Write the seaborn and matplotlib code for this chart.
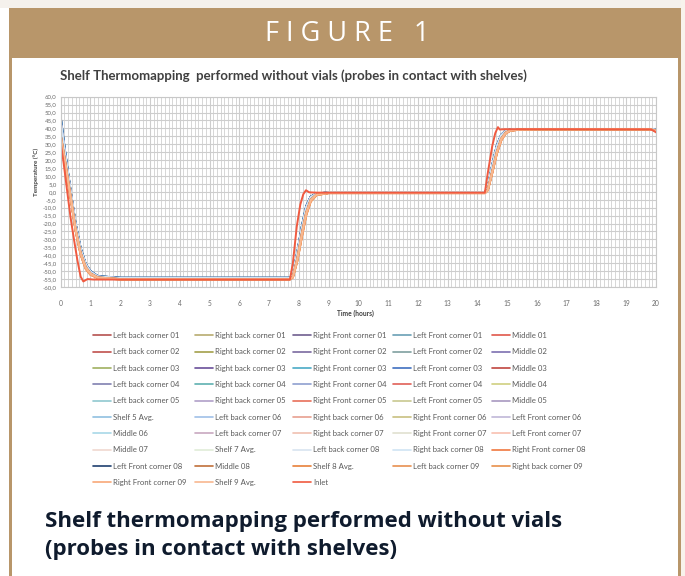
import matplotlib
matplotlib.use("Agg")
import matplotlib.pyplot as plt
import pandas as pd
import seaborn as sns
from matplotlib.lines import Line2D
from matplotlib.patches import Rectangle
from matplotlib.ticker import MultipleLocator, FuncFormatter

# ---------------------------------------------------------------- data
# common sampling instants (hours) for the shelf probes
hours = [0, 0.15, 0.33, 0.5, 0.67, 0.84, 1.0, 1.25, 2.0, 7.7, 7.8, 7.95, 8.1,
         8.25, 8.4, 8.6, 9.0, 14.25, 14.35, 14.5, 14.65, 14.8, 14.95, 15.1,
         15.4, 16.0, 19.8, 20.0]

# typical probe responses (°C) at the instants above
p_hot = [47.0, 25.0, 1.0, -20.0, -35.5, -45.5, -50.0, -53.2, -54.2, -54.2,
         -52.0, -38.0, -22.0, -9.0, -3.0, -1.0, -0.4, -0.4, 3.0, 17.0, 29.0,
         36.0, 38.5, 39.3, 39.6, 39.6, 39.6, 39.1]
p_warm = [44.0, 23.0, 0.0, -21.0, -36.5, -46.0, -50.5, -53.5, -54.5, -54.5,
          -52.5, -39.0, -23.5, -10.0, -3.5, -1.2, -0.5, -0.5, 2.5, 16.0, 28.0,
          35.5, 38.2, 39.1, 39.5, 39.5, 39.5, 39.0]
p_mid = [40.0, 21.0, -1.5, -22.5, -37.5, -46.8, -51.0, -53.8, -54.8, -54.8,
         -53.0, -40.5, -25.0, -11.5, -4.2, -1.4, -0.6, -0.6, 2.0, 14.5, 26.5,
         34.5, 37.8, 38.9, 39.4, 39.4, 39.4, 38.8]
p_cool = [36.0, 19.0, -2.5, -23.5, -38.5, -47.5, -51.5, -54.0, -55.0, -55.0,
          -53.5, -42.0, -26.5, -13.0, -5.0, -1.6, -0.7, -0.7, 1.5, 13.0, 25.0,
          33.5, 37.3, 38.7, 39.3, 39.4, 39.4, 38.6]
p_slow = [32.0, 17.0, -3.5, -24.5, -39.5, -48.5, -52.2, -54.4, -55.2, -55.2,
          -54.0, -43.5, -28.5, -14.5, -6.0, -2.0, -0.8, -0.8, 1.0, 12.0, 24.0,
          32.5, 36.8, 38.5, 39.2, 39.4, 39.4, 38.4]

# inlet (heat transfer fluid) sensor
inlet_hours = [0, 0.1, 0.2, 0.33, 0.45, 0.56, 0.67, 0.76, 0.9, 1.1, 2.0, 7.7,
               7.8, 7.93, 8.05, 8.15, 8.24, 8.35, 8.6, 9.0, 14.25, 14.35, 14.5,
               14.6, 14.69, 14.75, 14.9, 16.0, 19.8, 19.9, 20.0]
inlet_temp = [31.0, 18.0, 3.0, -16.0, -30.5, -43.0, -53.5, -56.5, -55.0,
              -55.3, -55.3, -55.3, -45.0, -22.0, -8.0, -1.5, 1.0, -0.3, -0.5,
              -0.5, -0.5, 12.0, 29.0, 37.0, 40.8, 39.3, 39.5, 39.5, 39.4, 38.8,
              37.5]

profiles = {"hot": p_hot, "warm": p_warm, "mid": p_mid, "cool": p_cool,
            "slow": p_slow}

# series in legend order (filled row by row, five per row)
series_names = [
    "Left back corner 01", "Right back corner 01", "Right Front corner 01", "Left Front corner 01", "Middle 01",
    "Left back corner 02", "Right back corner 02", "Right Front corner 02", "Left Front corner 02", "Middle 02",
    "Left back corner 03", "Right back corner 03", "Right Front corner 03", "Left Front corner 03", "Middle 03",
    "Left back corner 04", "Right back corner 04", "Right Front corner 04", "Left Front corner 04", "Middle 04",
    "Left back corner 05", "Right back corner 05", "Right Front corner 05", "Left Front corner 05", "Middle 05",
    "Shelf 5 Avg.", "Left back corner 06", "Right back corner 06", "Right Front corner 06", "Left Front corner 06",
    "Middle 06", "Left back corner 07", "Right back corner 07", "Right Front corner 07", "Left Front corner 07",
    "Middle 07", "Shelf 7 Avg.", "Left back corner 08", "Right back corner 08", "Right Front corner 08",
    "Left Front corner 08", "Middle 08", "Shelf 8 Avg.", "Left back corner 09", "Right back corner 09",
    "Right Front corner 09", "Shelf 9 Avg.", "Inlet",
]
series_colors = [
    "#b5524f", "#b8ab70", "#6f5f8f", "#6a9fb5", "#e0584a",
    "#c0504d", "#a3a04a", "#7a6aa0", "#7f9f9f", "#7d70b0",
    "#a0b060", "#6a4f9a", "#4aaac6", "#3f6fc0", "#c04540",
    "#8080b0", "#5fb0b0", "#8f9fd0", "#e06058", "#d0d080",
    "#90c8d0", "#b0a0c8", "#e8705a", "#c8c890", "#a898c0",
    "#90c0e0", "#a0c0e8", "#e8a090", "#c8c080", "#c0b8d8",
    "#a8d8e8", "#c8a8c0", "#f0c0b0", "#e0e0d0", "#f8c0b0",
    "#f0d8d0", "#e0ecd8", "#d8e4f0", "#d0e4f4", "#f07840",
    "#1f3f6f", "#c0703a", "#e8803a", "#e89050", "#e8904a",
    "#f8a878", "#f8b890", "#f05a40",
]
series_profile = [
    "mid", "warm", "hot", "hot", "mid",
    "warm", "mid", "hot", "hot", "warm",
    "mid", "warm", "hot", "hot", "mid",
    "warm", "mid", "warm", "cool", "mid",
    "mid", "warm", "cool", "mid", "warm",
    "warm", "mid", "cool", "mid", "warm",
    "mid", "cool", "cool", "mid", "cool",
    "mid", "mid", "warm", "warm", "slow",
    "cool", "cool", "cool", "slow", "slow",
    "slow", "cool", "inlet",
]

# long-form table for seaborn
frames = []
for name, prof in zip(series_names, series_profile):
    if prof == "inlet":
        frames.append(pd.DataFrame({"hours": inlet_hours, "temp": inlet_temp, "probe": name}))
    else:
        frames.append(pd.DataFrame({"hours": hours, "temp": profiles[prof], "probe": name}))
df = pd.concat(frames, ignore_index=True)

# ---------------------------------------------------------------- figure
W, H = 685, 576
sns.set_style("white")
plt.rcParams["font.family"] = ["Lato", "DejaVu Sans"]

fig = plt.figure(figsize=(W / 100, H / 100), dpi=100)
fig.patch.set_facecolor("white")

GOLD = "#b8966a"


def box(x0, y0, x1, y1, color, z=0):
    fig.patches.append(Rectangle((x0 / W, 1 - y1 / H), (x1 - x0) / W, (y1 - y0) / H,
                                 transform=fig.transFigure, color=color, zorder=z, lw=0))


box(0, 0, W, 8, "#f5f1ec")
box(681, 0, W, H, "#f8f3ec")
box(9, 8, 681, 58, GOLD)
box(9, 58, 12, H, GOLD)
box(678, 58, 681, H, GOLD)

fig.text(347 / W, 1 - 34 / H, "F I G U R E   1", color="white", fontsize=19.5,
         ha="center", va="center", family=["Open Sans", "DejaVu Sans"])

# chart title and caption
fig.text(60 / W, 1 - 76 / H,
         "Shelf Thermomapping  performed without vials (probes in contact with shelves)",
         fontsize=9.55, weight="bold", color="#404040", va="center")
cap_font = ["Open Sans", "DejaVu Sans"]
fig.text(45 / W, 1 - 522 / H, "Shelf thermomapping performed without vials",
         fontsize=16, weight="bold", color="#0f1b2d", va="center", family=cap_font)
fig.text(45 / W, 1 - 550 / H, "(probes in contact with shelves)",
         fontsize=16, weight="bold", color="#0f1b2d", va="center", family=cap_font)

# plot area
ax = fig.add_axes([60.7 / W, 1 - 287 / H, (656 - 60.7) / W, (287 - 96.7) / H])
palette = dict(zip(series_names, series_colors))
sns.lineplot(data=df, x="hours", y="temp", hue="probe", hue_order=series_names,
             palette=palette, estimator=None, sort=False, legend=False,
             linewidth=1.4, ax=ax)

ax.set_xlim(0, 20)
ax.set_ylim(-60, 60)
ax.xaxis.set_major_locator(MultipleLocator(1))
ax.xaxis.set_minor_locator(MultipleLocator(0.125))
ax.yaxis.set_major_locator(MultipleLocator(5))
ax.yaxis.set_major_formatter(FuncFormatter(lambda v, _: f"{v:.1f}".replace(".", ",")))
ax.set_axisbelow(True)
ax.grid(which="major", axis="both", color="#cdcdcd", lw=0.8)
ax.grid(which="minor", axis="x", color="#d6d6d6", lw=0.7)
ax.tick_params(axis="both", which="both", length=0)
ax.tick_params(axis="x", labelsize=4.8, labelcolor="#6a6a6a", pad=9)
ax.tick_params(axis="y", labelsize=4.3, labelcolor="#6a6a6a", pad=3)
ax.set_xlabel("")
ax.set_ylabel("")
for s in ax.spines.values():
    s.set_color("#c8c8c8")
    s.set_linewidth(0.8)

fig.text(355 / W, 1 - 313 / H, "Time (hours)", fontsize=4.8, weight="bold",
         color="#404040", ha="center", va="center")
fig.text(36 / W, 1 - 172 / H, "Temperature (°C)", fontsize=4.5, weight="bold",
         color="#404040", ha="center", va="center", rotation=90)

# legend: five fixed-width columns, entries laid out row by row
col_x = [93, 195, 293, 393, 492]
for c, x0 in enumerate(col_x):
    idx = [r * 5 + c for r in range(10) if r * 5 + c < len(series_names)]
    handles = [Line2D([], [], color=series_colors[i], lw=1.2) for i in idx]
    fig.legend(handles, [series_names[i] for i in idx], loc="upper left",
               bbox_to_anchor=(x0 / W, 1 - 332 / H), frameon=False,
               fontsize=5.6, handlelength=2.3, handletextpad=0.25,
               labelspacing=1.2, borderpad=0, borderaxespad=0,
               labelcolor="#595959")

fig.savefig("out.png", dpi=100)
